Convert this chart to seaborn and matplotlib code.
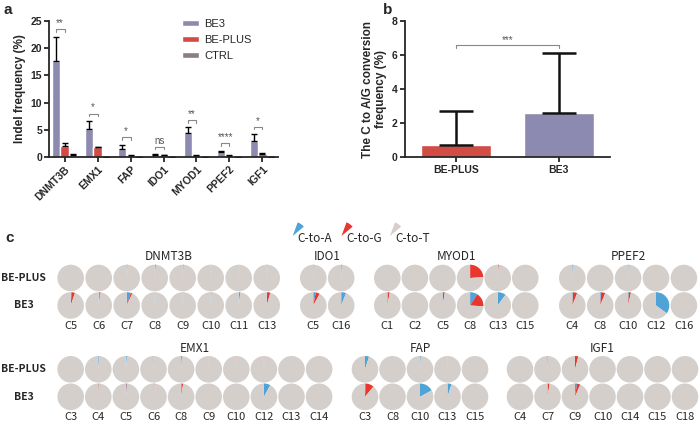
import numpy as np
import pandas as pd
import seaborn as sns
import matplotlib.pyplot as plt
from matplotlib.patches import Wedge

# ---- panel a data
genes = ['DNMT3B', 'EMX1', 'FAP', 'IDO1', 'MYOD1', 'PPEF2', 'IGF1']
groups = ['BE3', 'BE-PLUS', 'CTRL']
be3_mean = [17.6, 5.2, 1.6, 0.5, 4.4, 1.0, 2.9]
be3_sd = [4.5, 1.5, 0.7, 0.1, 1.1, 0.08, 1.3]
plus_mean = [2.1, 1.8, 0.3, 0.4, 0.3, 0.3, 0.6]
plus_sd = [0.5, 0.1, 0.05, 0.05, 0.05, 0.05, 0.1]
ctrl_mean = [0.5, 0.1, 0.05, 0.1, 0.05, 0.05, 0.1]
ctrl_sd = [0.1, 0.0, 0.0, 0.0, 0.0, 0.0, 0.0]
sig_labels = ['**', '*', '*', 'ns', '**', '****', '*']
sig_height = [23.4, 8.0, 3.7, 1.9, 6.8, 2.6, 5.6]

# ---- panel b data
b_groups = ['BE-PLUS', 'BE3']
b_mean = [0.7, 2.6]
b_sd = [2.0, 3.5]
b_sig = '***'
b_sig_height = 6.55

# ---- panel c data (fraction of C-to-A and C-to-G per site, rest is C-to-T)
dnmt3b_sites = ['C5', 'C6', 'C7', 'C8', 'C9', 'C10', 'C11', 'C13']
dnmt3b_plus_a = [0, 0, 0.01, 0.003, 0.003, 0.006, 0.006, 0.003]
dnmt3b_plus_g = [0, 0, 0.002, 0.01, 0.008, 0, 0, 0.006]
dnmt3b_be3_a = [0.012, 0.015, 0.05, 0.01, 0.01, 0.012, 0.02, 0.005]
dnmt3b_be3_g = [0.04, 0.008, 0.02, 0, 0, 0, 0, 0.04]

ido1_sites = ['C5', 'C16']
ido1_plus_a = [0.005, 0.01]
ido1_plus_g = [0.003, 0]
ido1_be3_a = [0.03, 0.06]
ido1_be3_g = [0.05, 0]

myod1_sites = ['C1', 'C2', 'C5', 'C8', 'C13', 'C15']
myod1_plus_a = [0, 0, 0, 0, 0.003, 0]
myod1_plus_g = [0, 0, 0, 0.24, 0.01, 0]
myod1_be3_a = [0.01, 0, 0.008, 0.09, 0.1, 0]
myod1_be3_g = [0.02, 0, 0.02, 0.17, 0, 0]

ppef2_sites = ['C4', 'C8', 'C10', 'C12', 'C16']
ppef2_plus_a = [0.01, 0, 0.008, 0, 0]
ppef2_plus_g = [0, 0, 0, 0, 0]
ppef2_be3_a = [0.01, 0.012, 0.01, 0.35, 0]
ppef2_be3_g = [0.05, 0.05, 0.025, 0, 0]

emx1_sites = ['C3', 'C4', 'C5', 'C6', 'C8', 'C9', 'C10', 'C12', 'C13', 'C14']
emx1_plus_a = [0, 0.015, 0.012, 0.01, 0, 0, 0, 0.003, 0, 0]
emx1_plus_g = [0, 0, 0, 0, 0.01, 0.002, 0.004, 0.003, 0, 0]
emx1_be3_a = [0, 0.004, 0.01, 0.006, 0.01, 0, 0, 0.08, 0, 0]
emx1_be3_g = [0, 0.006, 0.006, 0.006, 0.015, 0, 0, 0, 0, 0]

fap_sites = ['C3', 'C8', 'C10', 'C13', 'C15']
fap_plus_a = [0.05, 0, 0.01, 0.003, 0]
fap_plus_g = [0, 0, 0, 0, 0]
fap_be3_a = [0.01, 0, 0.17, 0.05, 0]
fap_be3_g = [0.1, 0, 0, 0, 0]

igf1_sites = ['C4', 'C7', 'C9', 'C10', 'C14', 'C15', 'C18']
igf1_plus_a = [0, 0, 0, 0, 0, 0, 0]
igf1_plus_g = [0, 0.01, 0.04, 0, 0, 0, 0]
igf1_be3_a = [0, 0, 0.025, 0, 0, 0, 0]
igf1_be3_g = [0, 0.025, 0.04, 0, 0, 0, 0]

purple = '#8883b8'
red = '#e8372e'
grey = '#8a7d7d'
pie_blue = '#4fa3d6'
pie_red = '#e8372e'
pie_grey = '#d5cfcc'

sns.set_style('ticks')
plt.rcParams['font.family'] = ['Liberation Sans', 'DejaVu Sans']
plt.rcParams['axes.linewidth'] = 1.3

fig = plt.figure(figsize=(7, 4.22), dpi=100)
H = 422.0

# ================= panel a
ax_a = fig.add_axes([49 / 700, 1 - 157.3 / H, 229 / 700, 136.6 / H])
df_a = pd.DataFrame({
    'gene': genes * 3,
    'group': ['BE3'] * 7 + ['BE-PLUS'] * 7 + ['CTRL'] * 7,
    'value': be3_mean + plus_mean + ctrl_mean,
})
sns.barplot(data=df_a, x='gene', y='value', hue='group', hue_order=groups,
            palette=[purple, red, grey], errorbar=None, width=0.8, gap=0.08,
            ax=ax_a, order=genes)
sds = [be3_sd, plus_sd, ctrl_sd]
centers = []
for cont, sd in zip(ax_a.containers, sds):
    xs = [b.get_x() + b.get_width() / 2 for b in cont]
    hs = [b.get_height() for b in cont]
    centers.append(xs)
    ax_a.errorbar(xs, hs, yerr=[np.zeros(len(sd)), sd], fmt='none',
                  ecolor='black', elinewidth=1.0, capsize=2.5, capthick=1.0)
for i, lab in enumerate(sig_labels):
    x1, x2 = centers[0][i], centers[1][i]
    h = sig_height[i]
    ax_a.plot([x1, x1, x2, x2], [h - 0.45, h, h, h - 0.45], color='#888888', lw=0.8)
    ax_a.text((x1 + x2) / 2, h + 0.2, lab, ha='center', va='bottom',
              fontsize=7, color='#555555')
ax_a.set_xlim(-0.47, 6.47)
ax_a.set_ylim(0, 25)
ax_a.set_yticks([0, 5, 10, 15, 20, 25])
ax_a.set_xlabel('')
ax_a.set_ylabel('Indel frequency (%)', fontsize=8.5, fontweight='bold', labelpad=3)
ax_a.tick_params(axis='both', labelsize=7.5, length=3.5, width=1.3, pad=1.5)
plt.setp(ax_a.get_xticklabels(), rotation=45, ha='right', rotation_mode='anchor',
         fontweight='bold')
plt.setp(ax_a.get_yticklabels(), fontweight='bold')
sns.despine(ax=ax_a)
handles, labels = ax_a.get_legend_handles_labels()
ax_a.legend(handles, labels, loc='upper left', bbox_to_anchor=(0.535, 1.085),
            frameon=False, fontsize=8, handlelength=1.6, handleheight=0.45,
            labelspacing=0.55, handletextpad=0.45)
fig.text(3 / 700, 1 - 10 / H, 'a', fontsize=11, fontweight='bold', va='center')

# ================= panel b
ax_b = fig.add_axes([405 / 700, 1 - 157.3 / H, 205 / 700, 136.6 / H])
sns.barplot(x=b_groups, y=b_mean, hue=b_groups, palette=[red, purple],
            legend=False, width=0.68, errorbar=None, ax=ax_b)
bx = [b.get_x() + b.get_width() / 2 for c in ax_b.containers for b in c]
ax_b.errorbar(bx, b_mean, yerr=[np.zeros(2), b_sd], fmt='none', ecolor='#111111',
              elinewidth=1.8, capsize=12, capthick=1.8)
ax_b.plot([bx[0], bx[0], bx[1], bx[1]],
          [b_sig_height - 0.15, b_sig_height, b_sig_height, b_sig_height - 0.15],
          color='#888888', lw=0.8)
ax_b.text(np.mean(bx), b_sig_height + 0.05, b_sig, ha='center', va='bottom',
          fontsize=7, color='#555555')
ax_b.set_xlim(-0.5, 1.5)
ax_b.set_ylim(0, 8)
ax_b.set_yticks([0, 2, 4, 6, 8])
ax_b.set_ylabel('The C to A/G conversion\nfrequency (%)', fontsize=8.5,
                fontweight='bold', labelpad=3)
ax_b.tick_params(axis='both', labelsize=7.5, length=3.5, width=1.3, pad=2)
plt.setp(ax_b.get_xticklabels(), fontweight='bold')
plt.setp(ax_b.get_yticklabels(), fontweight='bold')
sns.despine(ax=ax_b)
fig.text(383 / 700, 1 - 10 / H, 'b', fontsize=11, fontweight='bold', va='center')

# ================= panel c
ax_c = fig.add_axes([0, 0, 1, 1], zorder=-1)
ax_c.patch.set_visible(False)
cjk = ['Noto Sans CJK SC', 'DejaVu Sans']
R = 13.3


def Y(py):
    return H - py


def draw_gene(name, sites, plus_a, plus_g, be3_a, be3_g, x0, step, top):
    xs = [x0 + i * step for i in range(len(sites))]
    for i, x in enumerate(xs):
        for py, a, g in ((top + 21, plus_a[i], plus_g[i]), (top + 48.5, be3_a[i], be3_g[i])):
            ax_c.pie([a, g, 1 - a - g], colors=[pie_blue, pie_red, pie_grey],
                     startangle=90, counterclock=False, radius=R, center=(x, Y(py)),
                     frame=True, wedgeprops=dict(linewidth=0))
        ax_c.text(x, Y(top + 69), sites[i], ha='center', va='center',
                  fontsize=8, family=cjk)
    ax_c.text(np.mean(xs), Y(top), name, ha='center', va='center',
              fontsize=8.5, family=cjk)


draw_gene('DNMT3B', dnmt3b_sites, dnmt3b_plus_a, dnmt3b_plus_g, dnmt3b_be3_a, dnmt3b_be3_g, 70.7, 28.0, 257)
draw_gene('IDO1', ido1_sites, ido1_plus_a, ido1_plus_g, ido1_be3_a, ido1_be3_g, 313.3, 27.9, 257)
draw_gene('MYOD1', myod1_sites, myod1_plus_a, myod1_plus_g, myod1_be3_a, myod1_be3_g, 387.3, 27.6, 257)
draw_gene('PPEF2', ppef2_sites, ppef2_plus_a, ppef2_plus_g, ppef2_be3_a, ppef2_be3_g, 572.3, 27.9, 257)
draw_gene('EMX1', emx1_sites, emx1_plus_a, emx1_plus_g, emx1_be3_a, emx1_be3_g, 70.7, 27.6, 348.3)
draw_gene('FAP', fap_sites, fap_plus_a, fap_plus_g, fap_be3_a, fap_be3_g, 365.0, 27.5, 348.3)
draw_gene('IGF1', igf1_sites, igf1_plus_a, igf1_plus_g, igf1_be3_a, igf1_be3_g, 520.0, 27.5, 348.3)

for top in (257, 348.3):
    ax_c.text(23.5, Y(top + 21), 'BE-PLUS', ha='center', va='center', fontsize=7.5,
              fontweight='bold', family=cjk)
    ax_c.text(23.5, Y(top + 48.5), 'BE3', ha='center', va='center', fontsize=7.5,
              fontweight='bold', family=cjk)

# legend wedges
for x_apex, col, lab in ((292.7, pie_blue, 'C-to-A'), (341.5, pie_red, 'C-to-G'),
                         (390.0, pie_grey, 'C-to-T')):
    ax_c.add_patch(Wedge((x_apex, Y(236)), 14.5, 40, 70, color=col, lw=0))
    ax_c.text(x_apex + 5, Y(238.5), lab, ha='left', va='center', fontsize=8.5,
              family=cjk)

ax_c.text(5, Y(238), 'c', ha='left', va='center', fontsize=11, fontweight='bold')
ax_c.set_xlim(0, 700)
ax_c.set_ylim(0, H)
ax_c.axis('off')

fig.savefig('out.png', dpi=100)
